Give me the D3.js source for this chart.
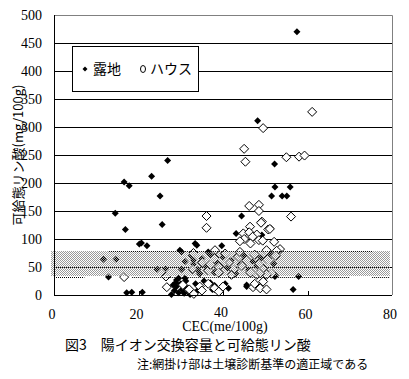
<!DOCTYPE html>
<html>
<head>
<meta charset="utf-8">
<script src="https://cdn.jsdelivr.net/npm/d3@7"></script>
<style>
  body { margin: 0; background: #fff; }
  text { font-family: "Liberation Serif", serif; }
  .jp { font-family: "Noto Sans CJK JP", sans-serif; }
</style>
</head>
<body>
<div id="my_dataviz"></div>
<script>
// —————————— DATA
// 露地 (filled diamonds)
var rojiX = [57.5,48.2,26.9,52.2,23.1,16.6,17.8,52.3,55.9,25.1,51.5,54,55.1,14.5,44.4,25.6,51.3,16.9,43.1,49.2,
  20.7,20.2,22,33.4,33.8,39.7,30.2,36.5,29.8,11.7,14.7,24.4,26.4,30.2,
  31,32.5,33,34,35,36,37,38,38.5,40,41,42,43,44,45,46,47,48,49,50,51,52,39.5,34.5,33,
  12.9,52.4,52.3,57.9,
  17.2,18.4,20.9,27.8,28.5,29,29.5,30,30.3,30.8,31.2,31.5,32,32.2,29,28.2,33.5,34,35.5,37,37.5,38,41.3,40.5,45.6,45.6,56.6,29.5,31,28.8];
var rojiY = [470,311,240,234,212,202,195,193,193,177,177,177,177,146,141,126,119,117,110,107,
  93,91,88,92,89,88,77,77,80,64,64,46,47,46,
  60,70,55,45,65,50,72,40,58,68,48,62,38,55,70,45,60,52,66,42,74,56,52,38,62,
  32,35,33,33,
  4,5,5,1,8,15,4,20,10,3,25,12,6,1,27,18,20,8,25,22,10,17,12,20,15,18,10,30,30,22];

// ハウス (open diamonds)
var houseX = [61.1,49.5,45,45.3,55,58,59.3,46.2,48.5,48.5,36.1,56.1,49.2,36.1,49,46.4,50.7,51.1,44.8,46.2,
  48,45,47,44,46.5,48.5,49.4,52.1,53.5,52.7,50.3,38.1,
  33,35,36.5,38,39,40.5,41.5,42.5,43.5,44.5,45.5,46.5,47.5,48.5,49.5,50.5,51.5,52.5,37,42,44,39,48,50.3,48.8,32.8,
  16.6,26.5,26.7,33.1,34.5,35,36.5,38,39,40,47.1,48.8,50.3,47.5,30.5,32,49.5];
var houseY = [327,298,261,238,246,247,249,159,161,150,141,140,131,120,129,122,117,118,110,112,
  108,100,104,96,92,98,97,95,82,79,80,80,
  75,58,44,66,50,74,58,45,68,52,62,40,72,56,47,64,38,70,54,36,77,40,36,36,39,46,
  32,33,14,2,15,8,20,12,6,15,14,12,10,20,18,10,24];

var xTicks = [0, 20, 40, 60, 80];
var yTicks = [0, 50, 100, 150, 200, 250, 300, 350, 400, 450, 500];
var band = [34, 78];   // 適正域

// —————————— LAYOUT
var width = 409, height = 379;
var margin = {top: 15, right: 17, bottom: 84, left: 54};

var svg = d3.select("#my_dataviz")
  .append("svg")
    .attr("width", width)
    .attr("height", height);

var x = d3.scaleLinear().domain([0, 80]).range([margin.left, width - margin.right]);
var y = d3.scaleLinear().domain([0, 500]).range([height - margin.bottom, margin.top]);

// pattern for the shaded band
var pat = svg.append("defs").append("pattern")
    .attr("id", "hatch")
    .attr("patternUnits", "userSpaceOnUse")
    .attr("width", 2).attr("height", 2);
pat.append("rect").attr("x", 0).attr("y", 0).attr("width", 1).attr("height", 1).attr("fill", "#9a9a9a");
pat.append("rect").attr("x", 1).attr("y", 1).attr("width", 1).attr("height", 1).attr("fill", "#9a9a9a");

// gridlines
svg.append("g")
  .selectAll("line")
  .data(yTicks.filter(function(d){ return d > 0 && d < 500; }))
  .enter().append("line")
    .attr("x1", x(0)).attr("x2", x(80))
    .attr("y1", function(d){ return Math.round(y(d)) + 0.5; })
    .attr("y2", function(d){ return Math.round(y(d)) + 0.5; })
    .attr("stroke", "#000").attr("stroke-width", 1);

// frame: top / right grey
svg.append("path")
  .attr("d", "M" + (x(0)) + "," + (Math.round(y(500)) + 0.5) + "H" + (Math.round(x(80)) + 0.5) + "V" + y(0))
  .attr("fill", "none").attr("stroke", "#808080");

// —————————— POINTS
function diamond(r) {
  return "M0," + (-r) + "L" + r + ",0L0," + r + "L" + (-r) + ",0Z";
}

svg.append("g")
  .selectAll("path")
  .data(rojiX)
  .enter().append("path")
    .attr("d", diamond(3.5))
    .attr("transform", function(d, i){ return "translate(" + x(d) + "," + y(rojiY[i]) + ")"; })
    .attr("fill", "#000");

svg.append("g")
  .selectAll("path")
  .data(houseX)
  .enter().append("path")
    .attr("d", diamond(4.5))
    .attr("transform", function(d, i){ return "translate(" + x(d) + "," + y(houseY[i]) + ")"; })
    .attr("fill", "#fff")
    .attr("stroke", "#000")
    .attr("stroke-width", 1);

// shaded band on top of the points
svg.append("rect")
  .attr("x", x(-0.7))
  .attr("y", Math.round(y(band[1])))
  .attr("width", x(79.5) - x(-0.7))
  .attr("height", Math.round(y(band[0])) - Math.round(y(band[1])))
  .attr("fill", "url(#hatch)");

// dotted edges
var dotted = [[13, 75.3, 78], [0, 7.2, 32], [18.5, 70, 32], [75.3, 79.5, 32]];
svg.append("g")
  .selectAll("line")
  .data(dotted)
  .enter().append("line")
    .attr("x1", function(d){ return x(d[0]); })
    .attr("x2", function(d){ return x(d[1]); })
    .attr("y1", function(d){ return Math.round(y(d[2])) + 0.5; })
    .attr("y2", function(d){ return Math.round(y(d[2])) + 0.5; })
    .attr("stroke", "#000")
    .attr("stroke-dasharray", "1,1");

// —————————— AXES
svg.append("line")
  .attr("x1", Math.round(x(0)) + 0.5).attr("x2", Math.round(x(0)) + 0.5)
  .attr("y1", y(500)).attr("y2", y(0))
  .attr("stroke", "#000");
svg.append("line")
  .attr("x1", x(0)).attr("x2", x(80))
  .attr("y1", Math.round(y(0)) + 0.5).attr("y2", Math.round(y(0)) + 0.5)
  .attr("stroke", "#000");

// inner x ticks
svg.append("g")
  .selectAll("line")
  .data(xTicks.slice(1, 4))
  .enter().append("line")
    .attr("x1", function(d){ return Math.round(x(d)) + 0.5; })
    .attr("x2", function(d){ return Math.round(x(d)) + 0.5; })
    .attr("y1", y(0)).attr("y2", y(0) - 4)
    .attr("stroke", "#000");

svg.append("g")
  .selectAll("text")
  .data(yTicks)
  .enter().append("text")
    .attr("x", x(0) - 12)
    .attr("y", function(d){ return y(d) + 5; })
    .attr("text-anchor", "end")
    .style("font-size", "14px")
    .text(function(d){ return d; });

svg.append("g")
  .selectAll("text")
  .data(xTicks)
  .enter().append("text")
    .attr("x", function(d){ return x(d) - 2; })
    .attr("y", function(d){ return d == 40 ? 317 : 319; })
    .attr("text-anchor", "middle")
    .style("font-size", "14px")
    .text(function(d){ return d; });

// axis titles
svg.append("text")
  .attr("x", 225).attr("y", 331)
  .attr("text-anchor", "middle")
  .style("font-size", "14px")
  .text("CEC(me/100g)");

svg.append("text")
  .attr("class", "jp")
  .attr("transform", "translate(23,155) rotate(-90)")
  .attr("text-anchor", "middle")
  .style("font-size", "13px")
  .text("可給態リン酸(mg/100g)");

// —————————— LEGEND
var lg = svg.append("g");
lg.append("rect")
  .attr("x", 72.5).attr("y", 46.5).attr("width", 126).attr("height", 45)
  .attr("fill", "#fff").attr("stroke", "#000");
lg.append("path")
  .attr("d", diamond(2.5))
  .attr("transform", "translate(85,69)")
  .attr("fill", "#000");
lg.append("text").attr("class", "jp")
  .attr("x", 93).attr("y", 74)
  .style("font-size", "14px")
  .text("露地");
lg.append("ellipse")
  .attr("cx", 143).attr("cy", 69).attr("rx", 2.5).attr("ry", 3.5)
  .attr("fill", "#fff").attr("stroke", "#000");
lg.append("text").attr("class", "jp")
  .attr("x", 150).attr("y", 74)
  .style("font-size", "14px")
  .text("ハウス");

// —————————— CAPTION
svg.append("text").attr("class", "jp")
  .attr("x", 65).attr("y", 350)
  .style("font-size", "14px")
  .text("図3　陽イオン交換容量と可給態リン酸");
svg.append("text").attr("class", "jp")
  .attr("x", 137).attr("y", 369)
  .style("font-size", "12px")
  .text("注:網掛け部は土壌診断基準の適正域である");
</script>
</body>
</html>
